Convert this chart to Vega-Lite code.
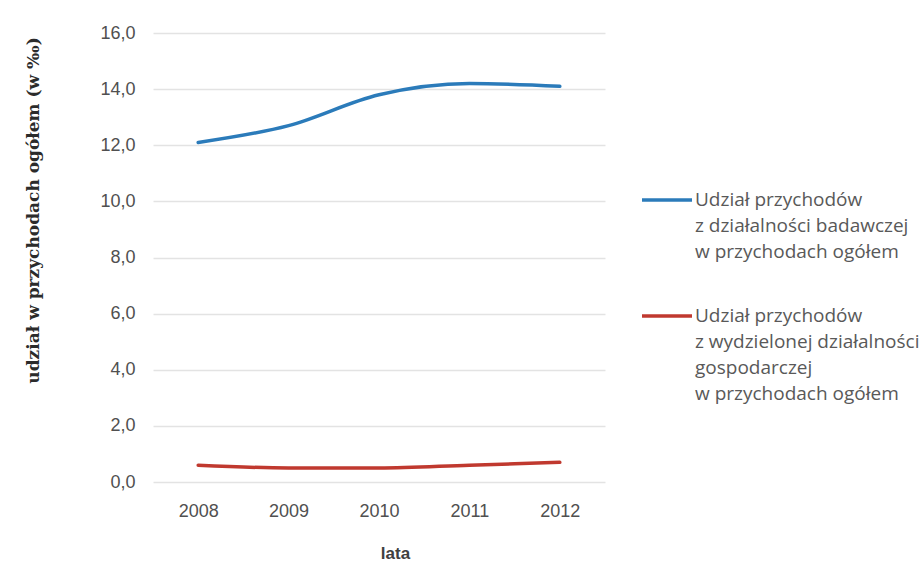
{
  "$schema": "https://vega.github.io/schema/vega-lite/v6.json",
  "width": 452,
  "height": 449,
  "autosize": "none",
  "padding": {"left": 153, "top": 33, "right": 316, "bottom": 81},
  "background": "#ffffff",
  "config": {
    "view": {"stroke": null},
    "font": "Liberation Sans"
  },
  "data": {
    "values": [
      {"rok": "2008", "seria": "Udział przychodów|z  działalności badawczej|w  przychodach ogółem", "udzial": 12.1},
      {"rok": "2009", "seria": "Udział przychodów|z  działalności badawczej|w  przychodach ogółem", "udzial": 12.7},
      {"rok": "2010", "seria": "Udział przychodów|z  działalności badawczej|w  przychodach ogółem", "udzial": 13.8},
      {"rok": "2011", "seria": "Udział przychodów|z  działalności badawczej|w  przychodach ogółem", "udzial": 14.2},
      {"rok": "2012", "seria": "Udział przychodów|z  działalności badawczej|w  przychodach ogółem", "udzial": 14.1},
      {"rok": "2008", "seria": "Udział przychodów|z  wydzielonej działalności|gospodarczej|w  przychodach ogółem", "udzial": 0.6},
      {"rok": "2009", "seria": "Udział przychodów|z  wydzielonej działalności|gospodarczej|w  przychodach ogółem", "udzial": 0.5},
      {"rok": "2010", "seria": "Udział przychodów|z  wydzielonej działalności|gospodarczej|w  przychodach ogółem", "udzial": 0.5},
      {"rok": "2011", "seria": "Udział przychodów|z  wydzielonej działalności|gospodarczej|w  przychodach ogółem", "udzial": 0.6},
      {"rok": "2012", "seria": "Udział przychodów|z  wydzielonej działalności|gospodarczej|w  przychodach ogółem", "udzial": 0.7}
    ]
  },
  "mark": {"type": "line", "interpolate": "monotone", "strokeWidth": 3.5, "strokeCap": "round"},
  "encoding": {
    "x": {
      "field": "rok",
      "type": "ordinal",
      "scale": {"type": "point", "padding": 0.5},
      "axis": {
        "title": "lata",
        "titleFont": "Liberation Sans",
        "titleFontSize": 17,
        "titleFontWeight": "bold",
        "titleColor": "#404040",
        "titleX": 242,
        "titleY": 71,
        "titleBaseline": "middle",
        "titleAlign": "center",
        "labelAngle": 0,
        "labelFont": "Liberation Sans",
        "labelFontSize": 18,
        "labelColor": "#505050",
        "labelPadding": 20,
        "ticks": false,
        "domain": false,
        "grid": false
      }
    },
    "y": {
      "field": "udzial",
      "type": "quantitative",
      "scale": {"domain": [0, 16], "nice": false},
      "axis": {
        "title": "udział w przychodach ogółem (w ‰)",
        "titleFont": "DejaVu Serif",
        "titleFontSize": 17,
        "titleFontWeight": "bold",
        "titleColor": "#2b2b2b",
        "titleAngle": -90,
        "titleX": -120,
        "titleY": 177,
        "titleAlign": "center",
        "titleBaseline": "middle",
        "values": [0, 2, 4, 6, 8, 10, 12, 14, 16],
        "labelExpr": "replace(format(datum.value, '.1f'), '.', ',')",
        "labelFont": "Liberation Sans",
        "labelFontSize": 18,
        "labelColor": "#505050",
        "labelPadding": 18,
        "ticks": false,
        "domain": false,
        "grid": true,
        "gridColor": "#e3e3e3",
        "gridWidth": 1.5
      }
    },
    "color": {
      "field": "seria",
      "type": "nominal",
      "scale": {
        "domain": [
          "Udział przychodów|z  działalności badawczej|w  przychodach ogółem",
          "Udział przychodów|z  wydzielonej działalności|gospodarczej|w  przychodach ogółem"
        ],
        "range": ["#2b7bba", "#c0392f"]
      },
      "legend": {
        "title": null,
        "orient": "none",
        "legendX": 487,
        "legendY": 140,
        "symbolType": "stroke",
        "symbolSize": 2500,
        "symbolStrokeWidth": 3.5,
        "labelExpr": "split(datum.label, '|')",
        "labelFont": "Open Sans",
        "labelFontSize": 19,
        "labelColor": "#595959",
        "labelOffset": 1,
        "labelLimit": 300,
        "rowPadding": 27,
        "encode": {
          "labels": {"update": {"lineHeight": {"value": 26}}}
        }
      }
    }
  }
}
